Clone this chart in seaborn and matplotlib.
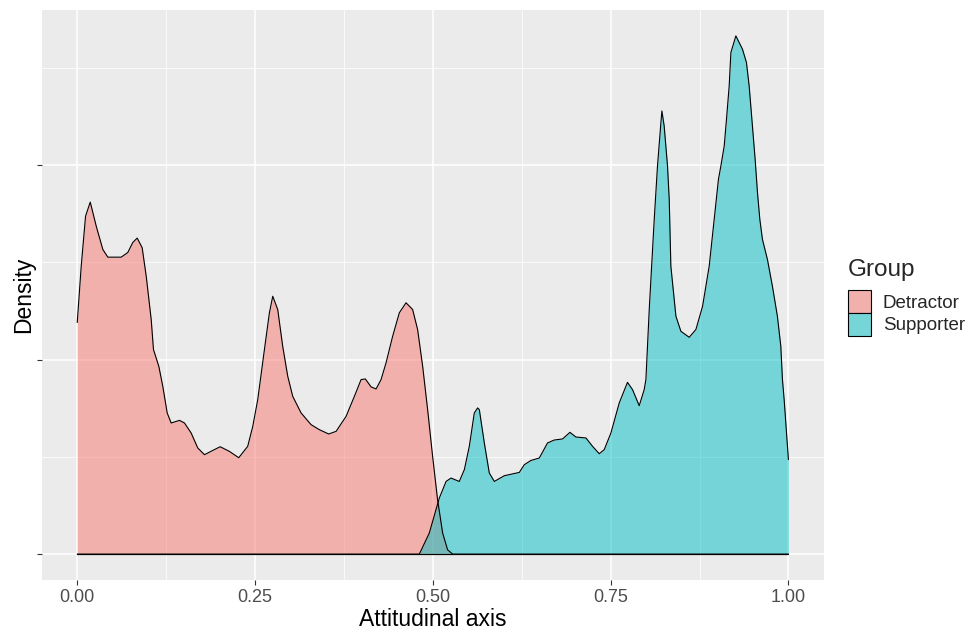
import matplotlib
matplotlib.use('Agg')
import matplotlib.pyplot as plt
from matplotlib.patches import Patch
import seaborn as sns
import pandas as pd
import numpy as np

# density curves (x on attitudinal axis, y = density)
detractor_x = [0.000, 0.0056, 0.0117, 0.0183, 0.0267, 0.0360, 0.0430, 0.0618, 0.0711, 0.0781,
               0.0843, 0.0913, 0.0970, 0.1040, 0.1072, 0.1147, 0.1203, 0.1265, 0.1321, 0.1438,
               0.1508, 0.1602, 0.1695, 0.1789, 0.1906, 0.2010, 0.2140, 0.2271, 0.2397, 0.2468,
               0.2538, 0.2632, 0.2702, 0.2749, 0.2819, 0.2889, 0.2960, 0.3030, 0.3148, 0.3288,
               0.3405, 0.3536, 0.3640, 0.3780, 0.3897, 0.3991, 0.4051, 0.4132, 0.4202, 0.4272,
               0.4342, 0.4435, 0.4529, 0.4623, 0.4716, 0.4786, 0.4857, 0.4927, 0.4997, 0.5067,
               0.5138, 0.5208, 0.5278, 1.000]
detractor_y = [2.381, 2.960, 3.475, 3.619, 3.372, 3.132, 3.053, 3.053, 3.101, 3.204,
               3.249, 3.150, 2.857, 2.412, 2.103, 1.931, 1.725, 1.451, 1.348, 1.375,
               1.348, 1.245, 1.091, 1.022, 1.066, 1.104, 1.056, 0.991, 1.108, 1.313,
               1.588, 2.103, 2.481, 2.651, 2.515, 2.137, 1.828, 1.622, 1.451, 1.331,
               1.279, 1.235, 1.262, 1.416, 1.622, 1.794, 1.801, 1.719, 1.698, 1.794,
               1.966, 2.240, 2.481, 2.584, 2.515, 2.309, 1.931, 1.485, 1.005, 0.559,
               0.216, 0.044, 0.000, 0.000]

supporter_x = [0.000, 0.481, 0.4950, 0.5091, 0.5186, 0.5256, 0.5372, 0.5443, 0.5513, 0.5583,
               0.5630, 0.5654, 0.5724, 0.5794, 0.5865, 0.6005, 0.6216, 0.6286, 0.6380, 0.6497,
               0.6613, 0.6708, 0.6824, 0.6928, 0.7012, 0.7153, 0.7246, 0.7340, 0.7410, 0.7504,
               0.7621, 0.7737, 0.7808, 0.7902, 0.7972, 0.7996, 0.8043, 0.8113, 0.8159, 0.8207,
               0.8221, 0.8253, 0.8300, 0.8324, 0.8347, 0.8418, 0.8488, 0.8605, 0.8699, 0.8793,
               0.8886, 0.8956, 0.9016, 0.9050, 0.9097, 0.9129, 0.9167, 0.9191, 0.9261, 0.9354,
               0.9410, 0.9448, 0.9494, 0.9532, 0.9565, 0.9598, 0.9635, 0.9705, 0.9775, 0.9845,
               0.9893, 0.9916, 0.9940, 1.000]
supporter_y = [0.000, 0.000, 0.216, 0.576, 0.747, 0.782, 0.747, 0.868, 1.108, 1.451,
               1.503, 1.485, 1.143, 0.834, 0.747, 0.806, 0.840, 0.919, 0.963, 0.988,
               1.143, 1.173, 1.184, 1.252, 1.204, 1.194, 1.108, 1.032, 1.074, 1.245,
               1.554, 1.766, 1.691, 1.526, 1.691, 1.794, 2.515, 3.441, 3.990, 4.436,
               4.556, 4.401, 3.990, 3.647, 2.960, 2.446, 2.291, 2.229, 2.309, 2.549,
               2.960, 3.441, 3.853, 3.990, 4.195, 4.470, 4.813, 5.157, 5.328, 5.191,
               5.054, 4.813, 4.401, 4.059, 3.716, 3.441, 3.235, 3.029, 2.754, 2.446,
               2.137, 1.794, 1.588, 0.971]

groups = ['Detractor', 'Supporter']
x_ticks = [0.00, 0.25, 0.50, 0.75, 1.00]
x_labels = ['0.00', '0.25', '0.50', '0.75', '1.00']

df = pd.concat([
    pd.DataFrame({'x': detractor_x, 'y': detractor_y, 'Group': 'Detractor'}),
    pd.DataFrame({'x': supporter_x, 'y': supporter_y, 'Group': 'Supporter'}),
])

sns.set_style('darkgrid', {'axes.facecolor': '#EBEBEB', 'grid.color': 'white'})
plt.rcParams['font.family'] = ['Liberation Sans', 'DejaVu Sans']

fills = {'Detractor': '#F8766D', 'Supporter': '#00BFC4'}
keys = {'Detractor': '#F1B0AC', 'Supporter': '#75D5D7'}

fig = plt.figure(figsize=(9.67, 6.31), dpi=100)
ax = fig.add_axes([0.0431, 0.0808, 0.809, 0.9034])

for g in groups:
    d = df[df['Group'] == g]
    ax.fill_between(d['x'], d['y'], 0, facecolor=fills[g], alpha=0.5, linewidth=0, zorder=2)
    ax.plot(d['x'], np.zeros(len(d)), color='black', linewidth=0.8, zorder=3)

sns.lineplot(data=df, x='x', y='y', hue='Group', palette={'Detractor': 'black', 'Supporter': 'black'},
             linewidth=0.8, legend=False, ax=ax, sort=True, estimator=None, zorder=3)

ymax = max(max(detractor_y), max(supporter_y))
ax.set_xlim(-0.05, 1.05)
ax.set_ylim(-0.05 * ymax, 1.05 * ymax)

ax.set_xticks(x_ticks)
ax.set_xticklabels(x_labels)
ax.set_xticks([0.125, 0.375, 0.625, 0.875], minor=True)
ax.set_yticks([0, 2, 4])
ax.set_yticklabels(['', '', ''])
ax.set_yticks([1, 3, 5], minor=True)
ax.grid(which='major', color='white', linewidth=1.1)
ax.grid(which='minor', color='white', linewidth=0.55)
ax.set_axisbelow(True)
for s in ax.spines.values():
    s.set_visible(False)
ax.tick_params(axis='both', which='major', length=3.5, width=0.8, color='#333333',
               labelcolor='#4D4D4D', labelsize=13, pad=3, bottom=True, left=True)
ax.tick_params(axis='both', which='minor', length=0)

ax.set_xlabel('Attitudinal axis', fontsize=16.5, color='black', labelpad=1.5)
ax.set_ylabel('Density', fontsize=16.5, color='black', labelpad=-2)

# legend: title placed separately to get the ggplot gap above the keys
fig.text(848 / 967, 1 - 276 / 631, 'Group', fontsize=17.5, ha='left', va='baseline')
handles = [Patch(facecolor=keys[g], edgecolor='black', linewidth=0.8) for g in groups]
leg = fig.legend(handles, groups, loc='upper left',
                 bbox_to_anchor=(848 / 967, 1 - 290 / 631), frameon=False, fontsize=13.5,
                 handlelength=1.2, handleheight=1.5,
                 handletextpad=0.65, labelspacing=0.0, borderpad=0, borderaxespad=0)

fig.savefig('out.png', dpi=100)
